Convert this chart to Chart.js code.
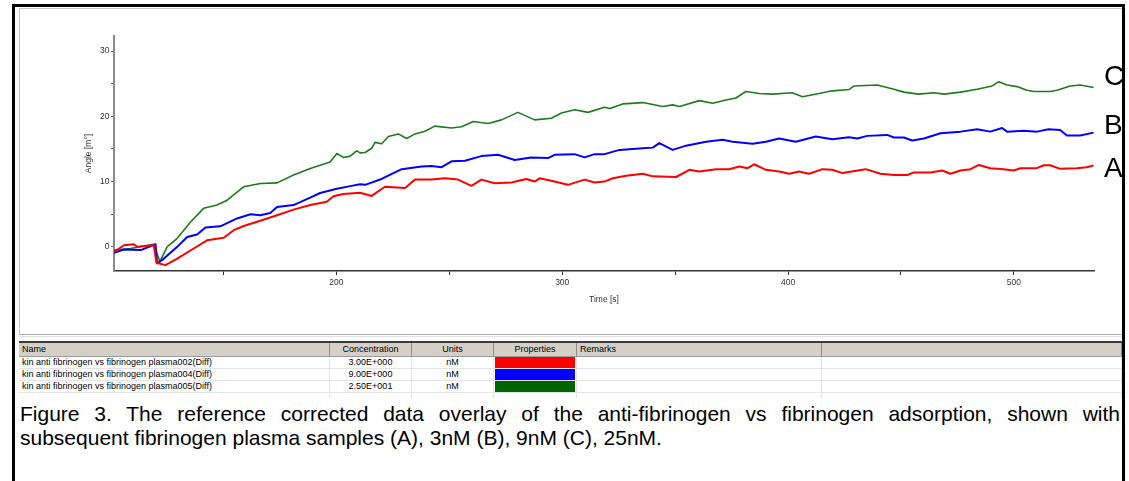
<!DOCTYPE html>
<html><head><meta charset="utf-8">
<title>Figure 3</title>
<script src="https://cdn.jsdelivr.net/npm/chart.js@4.4.1/dist/chart.umd.min.js"></script>
<style>
*{box-sizing:border-box;}
html,body{margin:0;padding:0;background:#fff;}
body{width:1129px;height:481px;position:relative;overflow:hidden;font-family:"Liberation Sans",Arial,sans-serif;color:#000;}
#frame{position:absolute;left:12px;top:4px;width:1113px;height:490px;border:3px solid #000;border-bottom:none;}
#panel{position:absolute;left:19px;top:8px;width:1103px;height:327px;border-left:1px solid #c4c4c4;border-top:1px solid #c4c4c4;border-bottom:1px solid #b0b0b0;}
#sep{position:absolute;left:19px;top:336px;width:1103px;height:1px;background:#e0e0e0;}
#chart{position:absolute;left:0;top:0;}
.lbl{position:absolute;left:1104px;font-size:28px;line-height:28px;}
#table{position:absolute;left:19px;top:341px;width:1103px;}
.row{position:relative;height:12px;border-bottom:1px solid #e4e4e4;}
.row.hdr{height:16px;background:#d4d0c8;border-top:2px solid #3c3c3c;border-bottom:1px solid #9a9a9a;}
.row.last{height:5px;border-bottom:none;}
.cell{position:absolute;top:0;height:100%;font-size:9px;line-height:11px;white-space:nowrap;overflow:hidden;border-right:1px solid #e4e4e4;padding:0 3px;}
.hdr .cell{line-height:13px;border-right:1px solid #8c8c8c;}
.c{text-align:center;}
.bar{position:absolute;left:1px;right:1px;top:0;bottom:0;}
#caption{position:absolute;left:20px;top:402px;width:1100px;font-size:21px;line-height:24px;}
.just{text-align:justify;text-align-last:justify;}
</style>
</head>
<body>
<div id="frame"></div>
<div id="panel"></div>
<div id="sep"></div>
<canvas id="chart" width="1129" height="340"></canvas>
<div class="lbl" style="top:62px">C</div>
<div class="lbl" style="top:111px">B</div>
<div class="lbl" style="top:154px">A</div>
<div id="table"></div>
<div id="caption">
<div class="just">Figure 3. The reference corrected data overlay of the anti-fibrinogen vs fibrinogen adsorption, shown with</div>
<div>subsequent fibrinogen plasma samples (A), 3nM (B), 9nM (C), 25nM.</div>
</div>
<script>
// ---- data ----
const timeA = [101.5,105.9,110.3,111.8,119.1,120.3,124.3,129.5,136.8,142.7,150.1,154.5,158.9,166.3,173.7,181.0,188.4,195.7,198.7,203.1,210.5,215.6,221.5,230.4,234.8,242.1,248.0,253.9,259.8,264.2,270.1,277.5,284.1,287.8,290.0,296.6,302.5,309.9,314.3,318.7,322.4,328.3,335.7,340.1,350.4,356.3,360.7,368.1,374.0,378.4,382.1,385.0,390.2,396.1,400.5,404.9,409.3,415.2,419.6,424.1,434.4,441.0,446.9,452.8,455.7,463.1,468.3,471.9,476.4,480.8,484.5,489.6,495.5,499.9,502.9,510.2,513.2,516.1,520.5,527.9,532.3,535.3];
const angleA = [-0.77,0.25,0.4,0.0,0.25,-2.45,-2.8,-1.8,-0.25,1.0,1.4,2.55,3.2,4.0,4.85,5.7,6.4,6.9,7.75,8.1,8.3,7.8,9.2,9.0,10.3,10.3,10.5,10.3,9.35,10.3,9.75,9.85,10.4,10.0,10.5,10.0,9.5,10.3,9.85,10.0,10.5,10.9,11.2,10.8,10.7,11.8,11.55,11.9,11.9,12.3,12.05,12.65,11.8,11.55,11.2,11.55,11.2,11.9,11.8,11.3,11.9,11.2,11.0,11.0,11.4,11.4,11.7,11.2,11.7,11.9,12.55,12.05,11.9,11.7,12.05,12.05,12.5,12.5,11.95,12.05,12.2,12.45];

const timeB = [101.5,105.9,113.3,119.9,120.6,123.6,129.5,133.9,138.3,142.0,148.6,156.0,161.9,166.3,170.7,173.7,181.0,188.4,192.8,200.2,206.1,210.5,212.7,220.0,228.9,237.7,242.1,246.6,251.0,256.9,264.2,271.6,279.0,286.3,293.7,296.6,305.5,309.9,314.3,318.7,325.4,335.7,340.1,343.0,348.9,354.8,363.7,371.0,375.5,384.3,390.2,396.1,403.4,412.3,419.6,427.0,430.7,435.1,443.9,446.9,451.3,455.0,460.2,467.5,476.4,483.7,489.6,494.8,497.0,504.3,510.2,515.4,520.5,523.5,529.4,535.3];
const angleB = [-0.9,-0.4,-0.5,0.4,-2.55,-1.8,0.0,1.5,1.9,2.95,3.15,4.35,5.0,4.85,5.2,6.1,6.4,7.55,8.25,8.9,9.3,9.6,9.5,10.4,11.9,12.3,12.4,12.2,13.1,13.2,13.9,14.1,13.3,13.7,13.6,14.1,14.2,13.7,14.2,14.2,14.85,15.1,15.2,15.9,14.85,15.5,16.1,16.4,16.1,15.8,16.1,16.6,16.1,16.9,16.5,16.8,16.6,17.0,17.15,16.75,16.75,16.3,16.6,17.4,17.65,18.0,17.65,18.2,17.65,17.8,17.65,18.0,17.9,17.05,17.05,17.5];

const timeC = [101.5,108.8,119.1,121.8,125.0,129.5,135.4,141.2,147.1,151.6,158.9,166.3,173.7,181.0,188.4,197.2,200.2,203.1,206.1,209.0,210.5,212.7,215.6,217.1,220.0,223.0,227.4,231.1,234.8,239.2,243.6,251.0,255.4,260.6,267.2,273.1,280.4,287.8,295.2,299.6,305.5,311.4,318.7,321.0,326.8,335.7,344.5,348.9,351.9,360.7,366.6,372.5,376.9,381.3,387.2,393.1,401.9,406.4,413.7,419.6,427.0,429.2,439.5,446.9,451.3,457.9,464.6,469.0,476.4,483.7,490.4,493.3,497.0,501.4,505.8,508.8,516.1,519.1,525.0,529.4,535.3];
const angleC = [-0.5,-0.25,0.4,-2.3,0.0,1.3,3.8,5.9,6.4,7.15,9.2,9.7,9.8,11.0,12.0,13.0,14.3,13.7,13.9,14.7,14.4,14.45,15.1,16.0,15.8,16.9,17.3,16.6,17.3,17.7,18.5,18.2,18.4,19.2,18.9,19.45,20.6,19.45,19.7,20.5,21.0,20.6,21.4,21.2,21.9,22.1,21.5,21.75,21.5,22.4,22.0,22.5,22.8,23.8,23.5,23.4,23.6,23.0,23.5,23.9,24.1,24.65,24.8,24.15,23.7,23.4,23.6,23.4,23.7,24.15,24.65,25.3,24.8,24.55,24.0,23.8,23.8,24.0,24.65,24.8,24.4];

const xMajorTicks = [200, 300, 400, 500];
const xMinorTicks = [150, 250, 350, 450];
const yMajorTicks = [0, 10, 20, 30];
const yMinorTicks = [5, 15, 25];

const sampleNames = ['kin anti fibrinogen vs fibrinogen plasma002(Diff)','kin anti fibrinogen vs fibrinogen plasma004(Diff)','kin anti fibrinogen vs fibrinogen plasma005(Diff)'];
const concentrations = ['3.00E+000','9.00E+000','2.50E+001'];
const unitsList = ['nM','nM','nM'];
const headers = ['Name','Concentration','Units','Properties','Remarks',''];

// ---- styles ----
const seriesColors = ['#ff0000', '#0000ff', '#1f7a1f'];
const barColors = ['#ff0000', '#0000ff', '#006400'];
const FONT = '"Liberation Sans", Arial, sans-serif';

function pts(t, v){ return t.map((x,i)=>({x:x, y:v[i]})); }

new Chart(document.getElementById('chart'), {
  type: 'line',
  data: { datasets: [
    {data: pts(timeA, angleA), borderColor: seriesColors[0], borderWidth: 2},
    {data: pts(timeB, angleB), borderColor: seriesColors[1], borderWidth: 2},
    {data: pts(timeC, angleC), borderColor: seriesColors[2], borderWidth: 1.6}
  ]},
  options: {
    responsive: false, animation: false,
    layout: {padding: {left: 0, top: 36, right: 35, bottom: 0}},
    plugins: {legend: {display: false}, tooltip: {enabled: false}},
    elements: {point: {radius: 0}, line: {tension: 0, borderJoinStyle: 'round', fill: false}},
    scales: {
      x: {
        type: 'linear', min: 101.5, max: 535.5,
        afterBuildTicks(s){ s.ticks = xMinorTicks.concat(xMajorTicks).sort((a,b)=>a-b).map(v=>({value:v})); },
        afterFit(s){ s.height = 69; s.paddingLeft = 0; s.paddingRight = 0; },
        grid: {drawOnChartArea: false, drawTicks: true, tickLength: 4, color: '#333'},
        border: {display: true, color: '#333', width: 1.5},
        ticks: {autoSkip: false, maxRotation: 0, padding: 3, color: '#333', font: {size: 8.5, family: FONT},
                callback: v => xMajorTicks.includes(v) ? String(v) : ''},
        title: {display: true, text: 'Time [s]', color: '#333', font: {size: 8.5, family: FONT}, padding: {top: 0, bottom: 35}}
      },
      y: {
        type: 'linear', min: -3.7, max: 32.3,
        afterBuildTicks(s){ s.ticks = yMajorTicks.concat(yMinorTicks).sort((a,b)=>a-b).map(v=>({value:v})); },
        afterFit(s){ s.width = 114; s.paddingTop = 0; s.paddingBottom = 0; },
        grid: {drawOnChartArea: false, drawTicks: true, tickLength: 3, color: '#555'},
        border: {display: true, color: '#8a8a8a', width: 2},
        ticks: {autoSkip: false, padding: 1.5, color: '#333', font: {size: 8.5, family: FONT},
                callback: v => yMajorTicks.includes(v) ? String(v) : ''},
        title: {display: true, text: 'Angle [m°]', color: '#333', font: {size: 8.5, family: FONT}, padding: {top: 84, bottom: 0}}
      }
    }
  }
});

// ---- table ----
const colEdges = [0, 311, 393, 475, 558, 803, 1103];
const tbl = document.getElementById('table');
function makeRow(cls, cells){
  const r = document.createElement('div');
  r.className = 'row ' + cls;
  cells.forEach((c, i) => {
    const d = document.createElement('div');
    d.className = 'cell' + (c.center ? ' c' : '');
    d.style.left = colEdges[i] + 'px';
    d.style.width = (colEdges[i+1] - colEdges[i]) + 'px';
    if (c.bar) { const b = document.createElement('div'); b.className = 'bar'; b.style.background = c.bar; d.appendChild(b); }
    else d.textContent = c.text || '';
    r.appendChild(d);
  });
  tbl.appendChild(r);
}
makeRow('hdr', headers.map((h, i) => ({text: h, center: i >= 1 && i <= 3})));
sampleNames.forEach((n, k) => {
  makeRow('', [{text: n}, {text: concentrations[k], center: true}, {text: unitsList[k], center: true}, {bar: barColors[k]}, {text: ''}, {text: ''}]);
});
makeRow('last', headers.map(() => ({text: ''})));
</script>
</body></html>
